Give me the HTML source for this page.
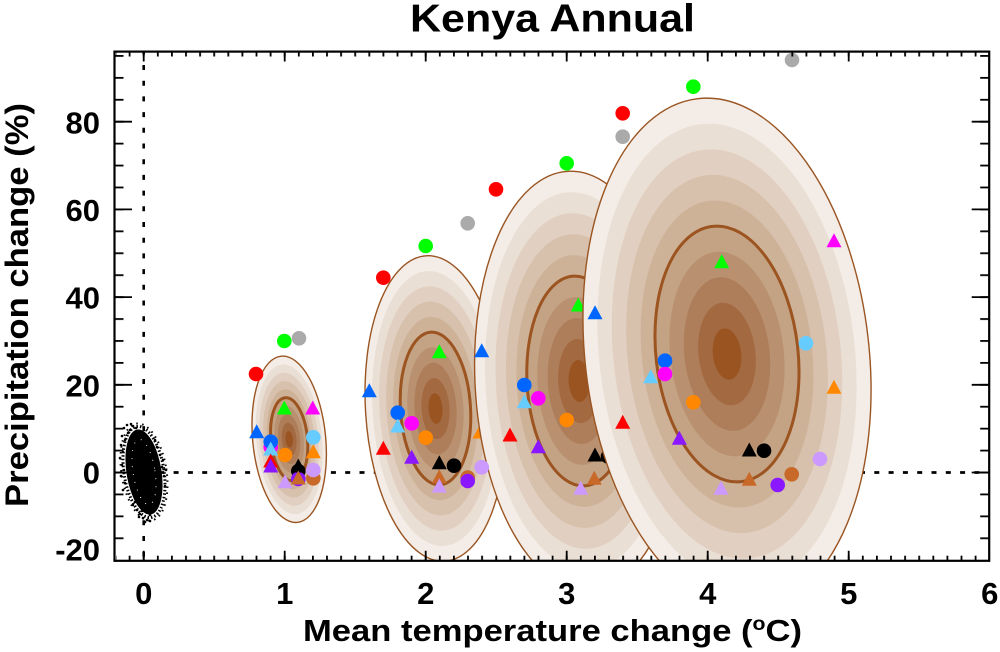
<!DOCTYPE html>
<html><head><meta charset="utf-8"><style>
html,body{margin:0;padding:0;background:#fff}
svg{display:block}
text{font-family:"Liberation Sans",Arial,Helvetica,sans-serif;font-weight:bold;fill:#000}
</style></head><body>
<svg width="1000" height="652" viewBox="0 0 1000 652" xmlns="http://www.w3.org/2000/svg">
<defs>
<clipPath id="pc"><rect x="114.5" y="51.5" width="874.7" height="509.3"/></clipPath>
<g id="b">
<circle r="1" fill="#f4ede7"/>
<circle r=".9" fill="#eadfd4"/>
<circle r=".8" fill="#e1d0c1"/>
<circle r=".7" fill="#d7c0ac"/>
<circle r=".6" fill="#ceb298"/>
<circle r=".5" fill="#c4a385"/>
<circle r=".4" fill="#b99170"/>
<circle r=".3" fill="#ae7d59"/>
<circle r=".2" fill="#a36940"/>
<circle r=".1" fill="#9a5421"/>
</g>
<path id="t" d="M0,-7.5L7.5,6.5L-7.5,6.5Z"/>
<pattern id="px" patternUnits="userSpaceOnUse" x="142.8" y="0" width="14.1" height="652"><rect x="0" y="0" width="1.8" height="652" fill="#000"/></pattern>
<pattern id="py" patternUnits="userSpaceOnUse" x="0" y="471.6" width="1000" height="21.925"><rect x="0" y="0" width="1000" height="1.8" fill="#000"/></pattern>
</defs>
<rect width="1000" height="652" fill="#fff"/>

<g clip-path="url(#pc)">
<!-- dotted zero lines -->
<line x1="145" y1="472.5" x2="989" y2="472.5" stroke="#000" stroke-width="2.8" stroke-dasharray="5 9.3"/>
<line x1="143.7" y1="51.5" x2="143.7" y2="560.7" stroke="#000" stroke-width="2.6" stroke-dasharray="5 10.7" stroke-dashoffset="2.2"/>

<!-- control scatter -->
<g transform="translate(144,472) rotate(-9)">
<ellipse rx="17.5" ry="43" fill="#000"/>
<ellipse rx="20" ry="46" fill="none" stroke="#000" stroke-width="3" stroke-dasharray="1.5 2"/>
<ellipse rx="22.5" ry="49" fill="none" stroke="#000" stroke-width="2" stroke-dasharray="1.5 4.5"/>
<ellipse rx="11" ry="33" fill="none" stroke="#fff" stroke-width="0.9" stroke-dasharray="1 7"/>
</g>
<g fill="#000">
<circle cx="124" cy="428" r="1.3"/><circle cx="127" cy="425" r="1.3"/><circle cx="130" cy="430" r="1.3"/><circle cx="133" cy="426" r="1.3"/><circle cx="136" cy="428" r="1.3"/><circle cx="128" cy="433" r="1.3"/><circle cx="122" cy="436" r="1.3"/><circle cx="125" cy="440" r="1.3"/><circle cx="131" cy="424" r="1.3"/><circle cx="138" cy="431" r="1.3"/>
<circle cx="121" cy="445" r="1.3"/><circle cx="123" cy="452" r="1.3"/><circle cx="120" cy="458" r="1.3"/><circle cx="122" cy="465" r="1.3"/><circle cx="124" cy="470" r="1.3"/><circle cx="121" cy="476" r="1.3"/><circle cx="125" cy="483" r="1.3"/><circle cx="123" cy="490" r="1.3"/>
<circle cx="160" cy="455" r="1.3"/><circle cx="163" cy="460" r="1.3"/><circle cx="162" cy="467" r="1.3"/><circle cx="166" cy="470" r="1.3"/><circle cx="164" cy="476" r="1.3"/><circle cx="161" cy="481" r="1.3"/><circle cx="165" cy="486" r="1.3"/><circle cx="160" cy="492" r="1.3"/><circle cx="158" cy="498" r="1.3"/><circle cx="157" cy="447" r="1.3"/><circle cx="155" cy="440" r="1.3"/>
<circle cx="133" cy="505" r="1.3"/><circle cx="137" cy="510" r="1.3"/><circle cx="140" cy="514" r="1.3"/><circle cx="143" cy="518" r="1.3"/><circle cx="147" cy="520" r="1.3"/><circle cx="150" cy="515" r="1.3"/><circle cx="153" cy="512" r="1.3"/><circle cx="156" cy="508" r="1.3"/><circle cx="145" cy="522" r="1.3"/><circle cx="139" cy="517" r="1.3"/><circle cx="135" cy="502" r="1.3"/><circle cx="158" cy="503" r="1.3"/><circle cx="150" cy="521" r="1.3"/><circle cx="142" cy="511" r="1.3"/>
</g>

<!-- Ellipse 1 -->
<use href="#b" transform="translate(289.2,439.3) rotate(-5.5) scale(36.5,83.5)"/>
<g transform="translate(289.2,439.3) rotate(-5.5)" fill="none">
<ellipse rx="36.5" ry="83.5" stroke="#9a5522" stroke-width="1.4"/>
<ellipse rx="18.25" ry="41.75" stroke="#9c5420" stroke-width="3"/>
</g>
<g>
<circle cx="256" cy="374" r="7.3" fill="#ff0000"/>
<circle cx="284.3" cy="341" r="7.3" fill="#00ff00"/>
<circle cx="299" cy="338.3" r="7.3" fill="#aaaaaa"/>
<circle cx="270.7" cy="447" r="7.3" fill="#ff00ff"/>
<circle cx="270.7" cy="441.7" r="7.3" fill="#0066ff"/>
<circle cx="285" cy="455" r="7.3" fill="#ff8800"/>
<circle cx="313.3" cy="437.3" r="7.3" fill="#66ccff"/>
<circle cx="298.3" cy="471" r="7.3" fill="#000"/>
<circle cx="313.3" cy="478.3" r="7.3" fill="#c8692a"/>
<circle cx="298.3" cy="479" r="7.3" fill="#8a17ff"/>
<circle cx="313.3" cy="470" r="7.3" fill="#cc99ff"/>
<use href="#t" x="284.3" y="408" fill="#00ff00"/>
<use href="#t" x="312.7" y="408" fill="#ff00ff"/>
<use href="#t" x="256.7" y="431.7" fill="#0066ff"/>
<use href="#t" x="270.7" y="449" fill="#66ccff"/>
<use href="#t" x="270.7" y="461" fill="#ff0000"/>
<use href="#t" x="270.7" y="466" fill="#8a17ff"/>
<use href="#t" x="313.3" y="451.7" fill="#ff8800"/>
<use href="#t" x="298.3" y="466" fill="#000"/>
<use href="#t" x="298.3" y="478" fill="#c8692a"/>
<use href="#t" x="285" y="481.7" fill="#cc99ff"/>
</g>

<!-- Ellipse 2 -->
<use href="#b" transform="translate(435.5,408.5) rotate(-3.5) scale(70,153)"/>
<g transform="translate(435.5,408.5) rotate(-3.5)" fill="none">
<ellipse rx="70" ry="153" stroke="#9a5522" stroke-width="1.4"/>
<ellipse rx="35" ry="76.5" stroke="#9c5420" stroke-width="3"/>
</g>
<g>
<circle cx="383.3" cy="277.7" r="7.3" fill="#ff0000"/>
<circle cx="425.7" cy="246" r="7.3" fill="#00ff00"/>
<circle cx="467.7" cy="223.3" r="7.3" fill="#aaaaaa"/>
<circle cx="397.7" cy="412.7" r="7.3" fill="#0066ff"/>
<circle cx="411.7" cy="423.3" r="7.3" fill="#ff00ff"/>
<circle cx="425.7" cy="437.7" r="7.3" fill="#ff8800"/>
<circle cx="454" cy="465.7" r="7.3" fill="#000"/>
<circle cx="467.7" cy="477.5" r="7.3" fill="#c8692a"/>
<circle cx="467.7" cy="481" r="7.3" fill="#8a17ff"/>
<use href="#t" x="439.3" y="351.7" fill="#00ff00"/>
<use href="#t" x="369.3" y="390.7" fill="#0066ff"/>
<use href="#t" x="397.7" y="426" fill="#66ccff"/>
<use href="#t" x="383.3" y="448.3" fill="#ff0000"/>
<use href="#t" x="411.7" y="457.3" fill="#8a17ff"/>
<use href="#t" x="439.3" y="462.7" fill="#000"/>
<use href="#t" x="439.3" y="476.7" fill="#c8692a"/>
<use href="#t" x="439.3" y="486" fill="#cc99ff"/>
<use href="#t" x="480" y="432" fill="#ff8800"/>
</g>

<!-- Ellipse 3 -->
<use href="#b" transform="translate(579,381) rotate(-3) scale(104,210)"/>
<g transform="translate(579,381) rotate(-3)" fill="none">
<ellipse rx="104" ry="210" stroke="#9a5522" stroke-width="1.4"/>
<ellipse rx="52" ry="105" stroke="#9c5420" stroke-width="3"/>
</g>
<g>
<circle cx="496" cy="189.3" r="7.3" fill="#ff0000"/>
<circle cx="566.7" cy="163.3" r="7.3" fill="#00ff00"/>
<circle cx="622.7" cy="136.7" r="7.3" fill="#aaaaaa"/>
<circle cx="524.3" cy="385" r="7.3" fill="#0066ff"/>
<circle cx="538.3" cy="398.3" r="7.3" fill="#ff00ff"/>
<circle cx="566.7" cy="420" r="7.3" fill="#ff8800"/>
<circle cx="608" cy="456.5" r="7.3" fill="#000"/>
<circle cx="481.7" cy="467.3" r="7.3" fill="#cc99ff"/>
<use href="#t" x="481.7" y="350.7" fill="#0066ff"/>
<use href="#t" x="578.3" y="305" fill="#00ff00"/>
<use href="#t" x="524.3" y="401.7" fill="#66ccff"/>
<use href="#t" x="510" y="435" fill="#ff0000"/>
<use href="#t" x="538.3" y="446.7" fill="#8a17ff"/>
<use href="#t" x="595" y="455" fill="#000"/>
<use href="#t" x="594.3" y="478.3" fill="#c8692a"/>
<use href="#t" x="580.7" y="488.3" fill="#cc99ff"/>
</g>

<!-- Ellipse 4 -->
<use href="#b" transform="translate(727,354) rotate(-6.5) scale(142,257)"/>
<g transform="translate(727,354) rotate(-6.5)" fill="none">
<ellipse rx="142" ry="257" stroke="#9a5522" stroke-width="1.4"/>
<ellipse rx="71" ry="128.5" stroke="#9c5420" stroke-width="3"/>
</g>
<g>
<circle cx="622.7" cy="113.3" r="7.3" fill="#ff0000"/>
<circle cx="693.3" cy="86.7" r="7.3" fill="#00ff00"/>
<circle cx="792" cy="60" r="7.3" fill="#aaaaaa"/>
<circle cx="806" cy="343.3" r="7.3" fill="#66ccff"/>
<circle cx="665" cy="360.7" r="7.3" fill="#0066ff"/>
<use href="#t" x="650.7" y="376.7" fill="#66ccff"/>
<circle cx="665" cy="374" r="7.3" fill="#ff00ff"/>
<circle cx="693.3" cy="402.3" r="7.3" fill="#ff8800"/>
<circle cx="764" cy="450.7" r="7.3" fill="#000"/>
<circle cx="820" cy="459" r="7.3" fill="#cc99ff"/>
<circle cx="791.7" cy="474.3" r="7.3" fill="#c8692a"/>
<circle cx="777.7" cy="485" r="7.3" fill="#8a17ff"/>
<use href="#t" x="834" y="240.7" fill="#ff00ff"/>
<use href="#t" x="721.7" y="261.7" fill="#00ff00"/>
<use href="#t" x="595" y="312.7" fill="#0066ff"/>
<use href="#t" x="834" y="387.3" fill="#ff8800"/>
<use href="#t" x="622.7" y="422.3" fill="#ff0000"/>
<use href="#t" x="679.3" y="438.3" fill="#8a17ff"/>
<use href="#t" x="749.3" y="450" fill="#000"/>
<use href="#t" x="749.3" y="479.3" fill="#c8692a"/>
<use href="#t" x="721" y="488.3" fill="#cc99ff"/>
</g>
</g>

<!-- minor ticks -->
<rect x="116" y="555.7" width="872" height="5" fill="url(#px)"/>
<rect x="116" y="51.5" width="872" height="5" fill="url(#px)"/>
<rect x="114.5" y="53" width="9" height="506" fill="url(#py)"/>
<rect x="980.2" y="53" width="9" height="506" fill="url(#py)"/>

<!-- major ticks -->
<g stroke="#000" stroke-width="1.8">
<path d="M143.7,560.7v-10M284.7,560.7v-10M425.7,560.7v-10M566.7,560.7v-10M707.7,560.7v-10M848.7,560.7v-10"/>
<path d="M143.7,51.5v10M284.7,51.5v10M425.7,51.5v10M566.7,51.5v10M707.7,51.5v10M848.7,51.5v10"/>
<path d="M114.5,121.7h17.5M114.5,209.4h17.5M114.5,297.1h17.5M114.5,384.8h17.5M114.5,472.5h17.5"/>
<path d="M989.2,121.7h-17.5M989.2,209.4h-17.5M989.2,297.1h-17.5M989.2,384.8h-17.5M989.2,472.5h-17.5"/>
</g>

<!-- frame -->
<rect x="114.5" y="51.6" width="874.7" height="509.2" fill="none" stroke="#000" stroke-width="2.2"/>

<!-- tick labels -->
<g font-size="31">
<text x="100" y="133.3" text-anchor="end">80</text>
<text x="100" y="221" text-anchor="end">60</text>
<text x="100" y="308.7" text-anchor="end">40</text>
<text x="100" y="396.4" text-anchor="end">20</text>
<text x="100" y="483.7" text-anchor="end">0</text>
<text x="100" y="560.7" text-anchor="end">-20</text>
<text x="143.7" y="604" text-anchor="middle">0</text>
<text x="284.7" y="604" text-anchor="middle">1</text>
<text x="425.7" y="604" text-anchor="middle">2</text>
<text x="566.7" y="604" text-anchor="middle">3</text>
<text x="707.7" y="604" text-anchor="middle">4</text>
<text x="848.7" y="604" text-anchor="middle">5</text>
<text x="989.7" y="604" text-anchor="middle">6</text>
</g>

<!-- titles -->
<text x="410" y="31.7" font-size="39" textLength="285" lengthAdjust="spacingAndGlyphs">Kenya Annual</text>
<text x="303" y="641" font-size="31" textLength="499" lengthAdjust="spacingAndGlyphs">Mean temperature change (<tspan dy="-11" font-size="19">o</tspan><tspan dy="11">C)</tspan></text>
<text transform="translate(28,305) rotate(-90)" text-anchor="middle" font-size="32" textLength="404" lengthAdjust="spacingAndGlyphs">Precipitation change (%)</text>
</svg>
</body></html>
